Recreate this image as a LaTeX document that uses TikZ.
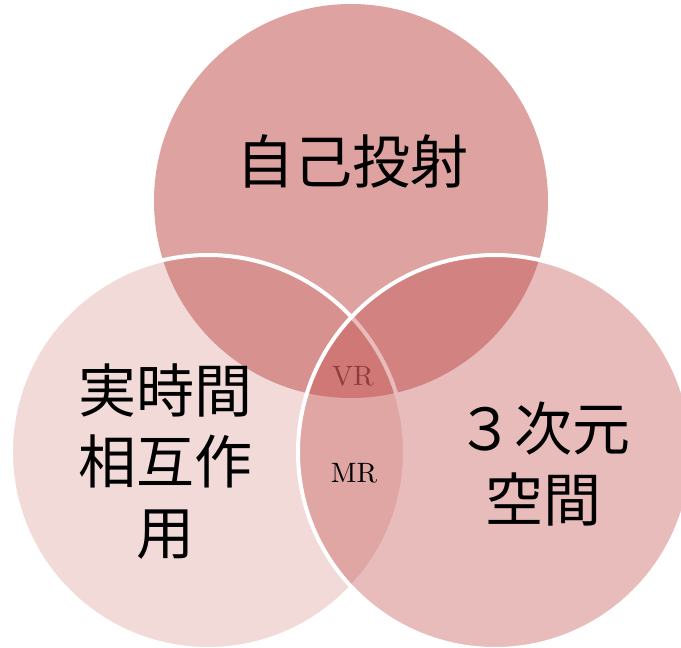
\documentclass[tikz,border=0pt]{standalone}
\usepackage{fontspec}
\newfontfamily\cjk{Noto Sans CJK JP}
\newfontfamily\lmten{lmroman10-regular.otf}
\definecolor{base}{RGB}{192,80,77}
\definecolor{vrred}{RGB}{142,60,60}
\begin{document}
\begin{tikzpicture}[x=1pt,y=-1pt,
  vcirc/.style={circle,inner sep=0pt,minimum size=394pt,fill=base},
  bigtxt/.style={font=\cjk\fontsize{58}{71}\selectfont,align=center,text=black},
  smalltxt/.style={font=\lmten\fontsize{28}{32}\selectfont}]
\useasboundingbox (0,0) rectangle (681,648);
\node[vcirc,fill opacity=0.53] (top) at (351,201) {};
\node[vcirc,fill opacity=0.21,draw=white,line width=4pt] (left) at (208,452) {};
\node[vcirc,fill opacity=0.38,draw=white,line width=4pt] (right) at (495,452) {};
\node[bigtxt] (t1) at (352,161) {自己投射};
\node[bigtxt] (t2) at (165,462) {実時間\\相互作\\用};
\node[bigtxt] (t3) at (543,464) {３次元\\空間};
\node[smalltxt,text=vrred] (vr) at (353,376) {VR};
\node[smalltxt,text=black] (mr) at (354,473) {MR};
\end{tikzpicture}
\end{document}
